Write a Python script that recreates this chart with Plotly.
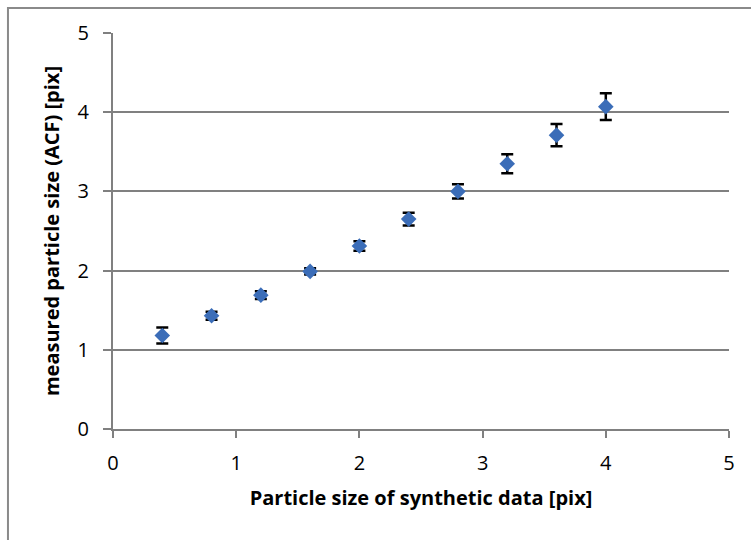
import plotly.graph_objects as go

x_size = [0.4, 0.8, 1.2, 1.6, 2.0, 2.4, 2.8, 3.2, 3.6, 4.0]
y_measured = [1.18, 1.43, 1.69, 1.99, 2.31, 2.65, 3.00, 3.35, 3.71, 4.07]
y_err = [0.10, 0.05, 0.05, 0.04, 0.06, 0.08, 0.09, 0.12, 0.14, 0.17]
tick_vals = [0, 1, 2, 3, 4, 5]

fig = go.Figure()
fig.add_trace(go.Scatter(
    x=x_size, y=y_measured, mode="markers",
    marker=dict(symbol="diamond", size=12, color="#3B6DB8", line=dict(width=0)),
    error_y=dict(type="data", array=y_err, visible=True, color="black", thickness=2.5, width=6),
    showlegend=False,
))

font_family = "Open Sans, Liberation Sans, sans-serif"
fig.update_layout(
    width=751, height=540,
    margin=dict(l=113, r=22, t=33, b=111),
    plot_bgcolor="white", paper_bgcolor="white",
    font=dict(family=font_family, color="black", size=20),
    xaxis=dict(
        range=[0, 5], tickvals=tick_vals, showgrid=False, zeroline=False,
        showline=True, linecolor="#808080", linewidth=2,
        ticks="outside", ticklen=7, tickwidth=2, tickcolor="#808080",
        ticklabelstandoff=8,
        title=dict(text="<b>Particle size of synthetic data [pix]</b>", font=dict(size=20), standoff=16),
    ),
    yaxis=dict(
        range=[0, 5], tickvals=tick_vals, showgrid=True, gridcolor="#808080", gridwidth=2,
        zeroline=False, showline=True, linecolor="#808080", linewidth=2,
        ticks="outside", ticklen=8, tickwidth=2, tickcolor="#808080",
        ticklabelstandoff=10,
        title=dict(text="<b>measured particle size (ACF) [pix]</b>", font=dict(size=20), standoff=13),
    ),
    shapes=[dict(type="rect", xref="paper", yref="paper",
                 x0=-0.1705, x1=1.2, y0=-0.5, y1=1.063,
                 line=dict(color="#8a8a8a", width=2), layer="below")],
)
fig.write_html("out.html")
